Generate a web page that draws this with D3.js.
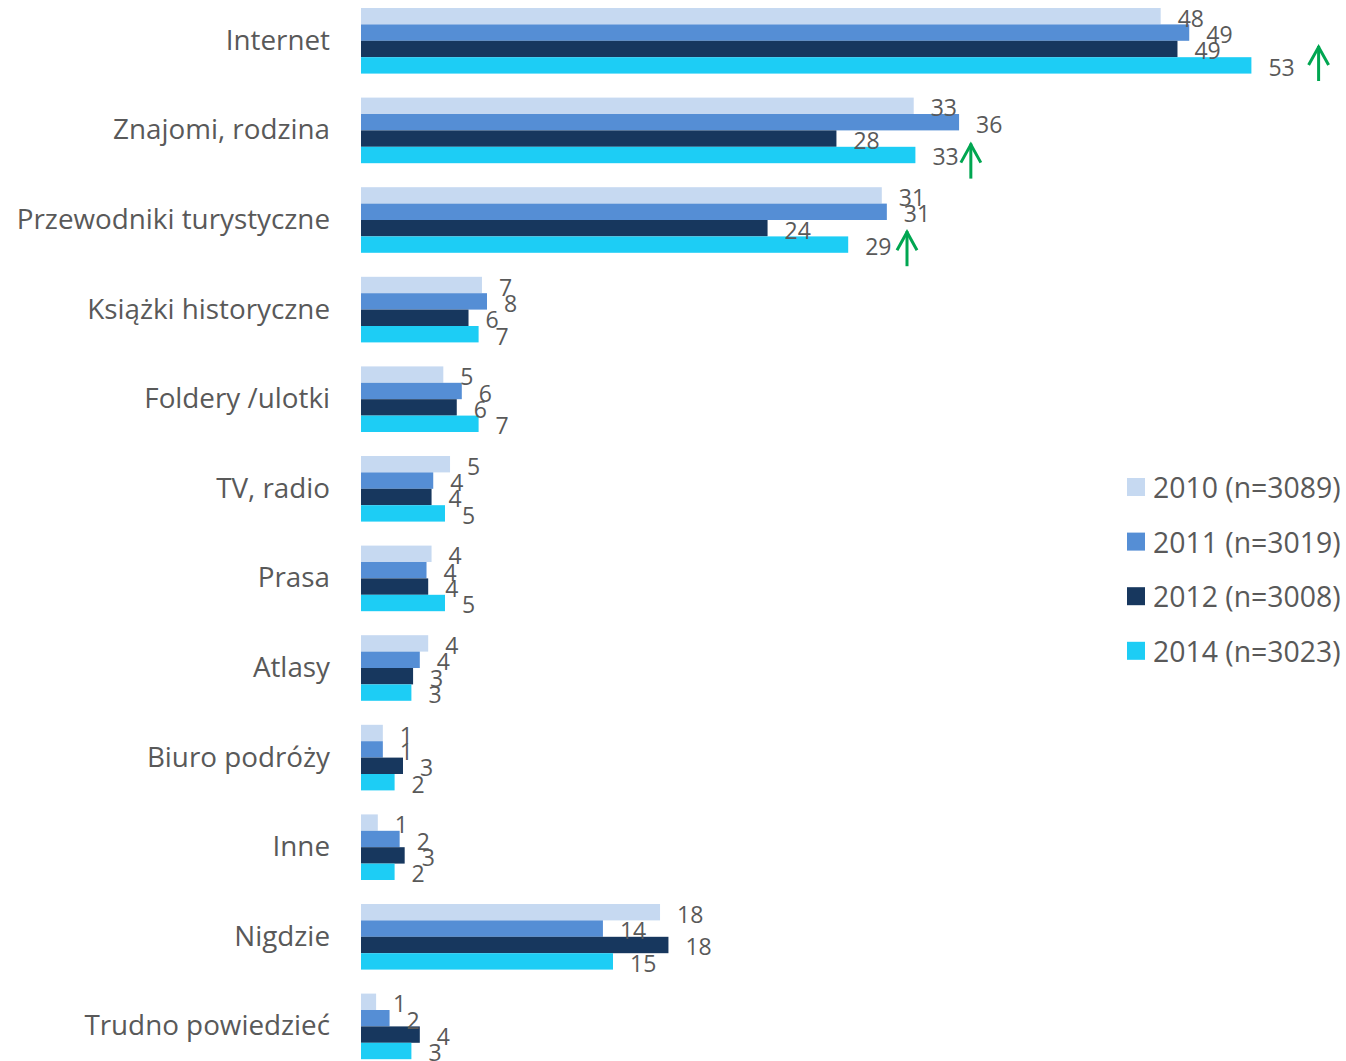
<!DOCTYPE html>
<html>
<head>
<meta charset="utf-8">
<script src="https://cdn.jsdelivr.net/npm/d3@7"></script>
<style>
  body { margin: 0; background: #fff; }
  text { font-family: "Open Sans", sans-serif; fill: #595959; }
</style>
</head>
<body>
<svg id="chart"></svg>
<script>
var width = 1346;
var height = 1061;

var categories = ["Internet", "Znajomi, rodzina", "Przewodniki turystyczne", "Książki historyczne",
  "Foldery /ulotki", "TV, radio", "Prasa", "Atlasy", "Biuro podróży", "Inne", "Nigdzie", "Trudno powiedzieć"];
var series = ["2010 (n=3089)", "2011 (n=3019)", "2012 (n=3008)", "2014 (n=3023)"];
var colors = ["#c6d9f1", "#558ed5", "#17375e", "#1dcdf5"];

// bar lengths and the rounded labels shown next to them
var v2010 = [47.6, 32.9, 31.0, 7.2, 4.9, 5.3, 4.2, 4.0, 1.3, 1.0, 17.8, 0.9];
var v2011 = [49.3, 35.6, 31.3, 7.5, 6.0, 4.3, 3.9, 3.5, 1.3, 2.3, 14.4, 1.7];
var v2012 = [48.6, 28.3, 24.2, 6.4, 5.7, 4.2, 4.0, 3.1, 2.5, 2.6, 18.3, 3.5];
var v2014 = [53.0, 33.0, 29.0, 7.0, 7.0, 5.0, 5.0, 3.0, 2.0, 2.0, 15.0, 3.0];
var l2010 = [48, 33, 31, 7, 5, 5, 4, 4, 1, 1, 18, 1];
var l2011 = [49, 36, 31, 8, 6, 4, 4, 4, 1, 2, 14, 2];
var l2012 = [49, 28, 24, 6, 6, 4, 4, 3, 3, 3, 18, 4];
var l2014 = [53, 33, 29, 7, 7, 5, 5, 3, 2, 2, 15, 3];

// green "up" arrows: category and horizontal position in data units
var arrowCats = ["Internet", "Znajomi, rodzina", "Przewodniki turystyczne"];
var arrowAt = [57.0, 36.3, 32.5];
var arrowShift = [-8, 0, -2];

var values = [v2010, v2011, v2012, v2014];
var labels = [l2010, l2011, l2012, l2014];

var data = [];
categories.forEach(function (c, i) {
  series.forEach(function (s, j) {
    data.push({cat: c, series: s, idx: j, value: values[j][i], label: labels[j][i]});
  });
});

var svg = d3.select("#chart").attr("width", width).attr("height", height);

var x = d3.scaleLinear().domain([0, 60]).range([361, 361 + 60 * 16.8]);
var y = d3.scaleBand().domain(categories).range([-4, 1071.2])
  .paddingInner(0.268).paddingOuter(0.134);
var ySub = d3.scaleBand().domain(series).range([0, y.bandwidth()]);

// category axis
var axis = svg.append("g")
  .attr("transform", "translate(" + x(0) + ",0)")
  .call(d3.axisLeft(y).tickSize(0).tickPadding(31));
axis.select(".domain").remove();
axis.selectAll("text")
  .style("font-family", "'Open Sans', sans-serif")
  .style("font-size", "27.8px")
  .attr("fill", "#595959");

// bars
svg.append("g").selectAll("rect")
  .data(data)
  .enter()
  .append("rect")
  .attr("x", x(0))
  .attr("y", function (d) { return y(d.cat) + ySub(d.series); })
  .attr("width", function (d) { return x(d.value) - x(0); })
  .attr("height", ySub.bandwidth())
  .attr("fill", function (d) { return colors[d.idx]; });

// value labels
svg.append("g").selectAll("text")
  .data(data)
  .enter()
  .append("text")
  .attr("x", function (d) { return x(d.value) + 17; })
  .attr("y", function (d) { return y(d.cat) + ySub(d.series) + ySub.bandwidth() / 2 + 1.5; })
  .attr("dominant-baseline", "central")
  .style("font-size", "23px")
  .text(function (d) { return d.label; });

// arrows
var arrows = svg.append("g")
  .attr("stroke", "#00a651")
  .attr("stroke-width", 3)
  .attr("fill", "none");
arrowCats.forEach(function (c, i) {
  var ax = x(arrowAt[i]);
  var top = y(c) + 46 + arrowShift[i];
  var bottom = top + 35;
  arrows.append("line").attr("x1", ax).attr("x2", ax).attr("y1", top).attr("y2", bottom);
  arrows.append("path")
    .attr("d", "M" + (ax - 10) + "," + (top + 19) + "L" + ax + "," + (top + 1) + "L" + (ax + 10) + "," + (top + 19));
});

// legend
var legend = svg.append("g").selectAll("g")
  .data(series)
  .enter()
  .append("g")
  .attr("transform", function (d, i) { return "translate(1127," + (487 + i * 54.6) + ")"; });
legend.append("rect")
  .attr("x", 0).attr("y", -9)
  .attr("width", 18).attr("height", 18)
  .attr("fill", function (d, i) { return colors[i]; });
legend.append("text")
  .attr("x", 26).attr("y", 0)
  .attr("dominant-baseline", "central")
  .style("font-size", "28.4px")
  .text(function (d) { return d; });
</script>
</body>
</html>
